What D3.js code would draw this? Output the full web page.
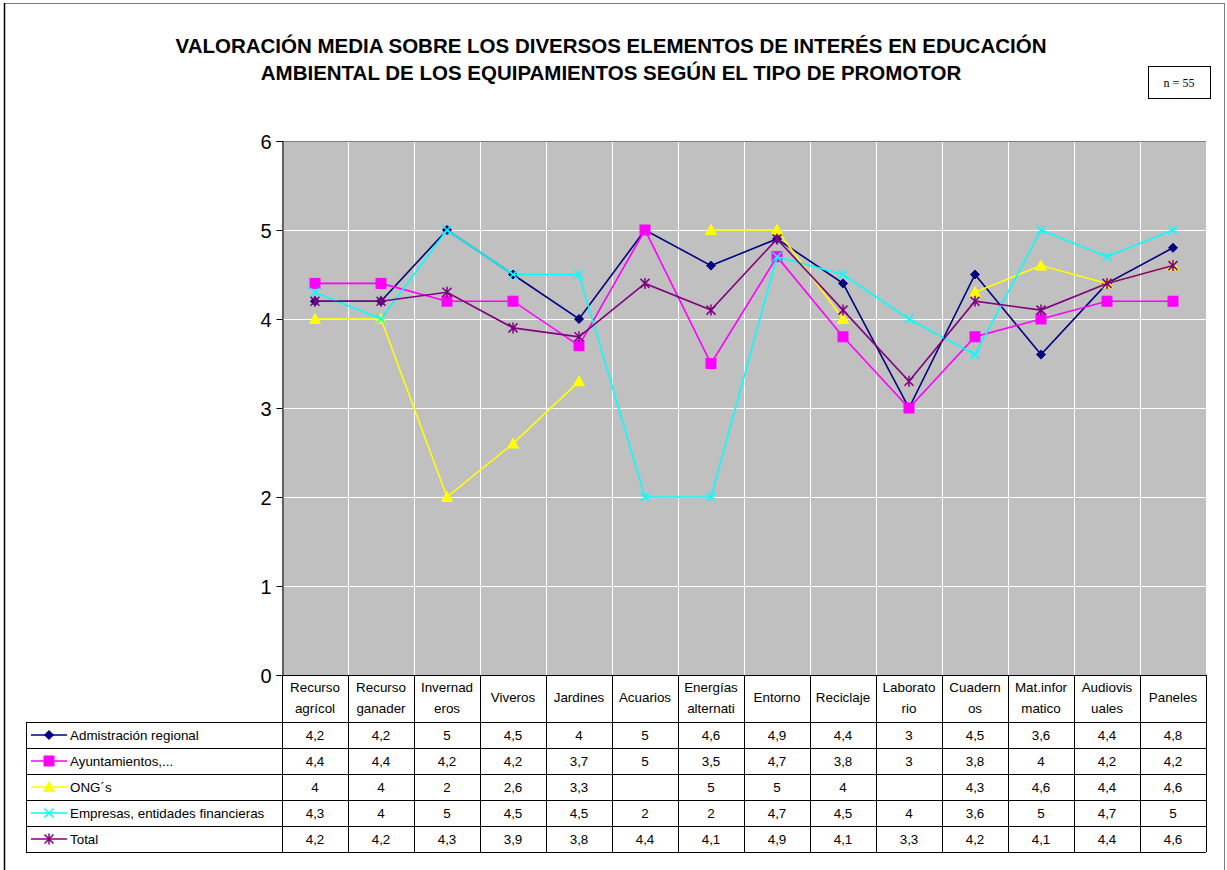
<!DOCTYPE html>
<html>
<head>
<meta charset="utf-8">
<style>
body { margin: 0; background: #fff; }
svg { font-family: Arial, "Liberation Sans", sans-serif; }
</style>
<script src="https://d3js.org/d3.v7.min.js"></script>
</head>
<body>
<svg id="chart" width="1227" height="870"></svg>
<script>

// categories (two lines each, as in the data table header)
var categories = [
  ["Recurso", "agrícol"], ["Recurso", "ganader"], ["Invernad", "eros"], ["Viveros"],
  ["Jardines"], ["Acuarios"], ["Energías", "alternati"], ["Entorno"], ["Reciclaje"],
  ["Laborato", "rio"], ["Cuadern", "os"], ["Mat.infor", "matico"], ["Audiovis", "uales"], ["Paneles"]
];

var seriesNames = ["Admistración regional", "Ayuntamientos,...", "ONG´s",
  "Empresas, entidades financieras", "Total"];

var admin   = [4.2, 4.2, 5, 4.5, 4, 5, 4.6, 4.9, 4.4, 3, 4.5, 3.6, 4.4, 4.8];
var ayto    = [4.4, 4.4, 4.2, 4.2, 3.7, 5, 3.5, 4.7, 3.8, 3, 3.8, 4, 4.2, 4.2];
var ong     = [4, 4, 2, 2.6, 3.3, null, 5, 5, 4, null, 4.3, 4.6, 4.4, 4.6];
var empresa = [4.3, 4, 5, 4.5, 4.5, 2, 2, 4.7, 4.5, 4, 3.6, 5, 4.7, 5];
var total   = [4.2, 4.2, 4.3, 3.9, 3.8, 4.4, 4.1, 4.9, 4.1, 3.3, 4.2, 4.1, 4.4, 4.6];

var yTicks = [0, 1, 2, 3, 4, 5, 6];

var seriesValues = [admin, ayto, ong, empresa, total];
var seriesColors = ["#000080", "#ff00ff", "#ffff00", "#00ffff", "#800080"];
var seriesMarkers = ["diamond", "square", "triangle", "x", "star"];

var svg = d3.select("#chart");

// outer frame
svg.append("rect").attr("x", 4.5).attr("y", 3.5).attr("width", 1220).attr("height", 880)
  .attr("fill", "none").attr("stroke", "#808080").attr("stroke-width", 1);
svg.append("line").attr("x1", 4.5).attr("x2", 4.5).attr("y1", 3).attr("y2", 870)
  .attr("stroke", "#000").attr("stroke-width", 1.5);

// title
svg.append("text").attr("x", 611).attr("y", 53).attr("text-anchor", "middle")
  .style("font-size", "20.5px").style("font-weight", "bold")
  .text("VALORACIÓN MEDIA SOBRE LOS DIVERSOS ELEMENTOS DE INTERÉS EN EDUCACIÓN");
svg.append("text").attr("x", 611).attr("y", 80).attr("text-anchor", "middle")
  .style("font-size", "20.5px").style("font-weight", "bold")
  .text("AMBIENTAL DE LOS EQUIPAMIENTOS SEGÚN EL TIPO DE PROMOTOR");

// n box
svg.append("rect").attr("x", 1148.5).attr("y", 66.5).attr("width", 62).attr("height", 32)
  .attr("fill", "#fff").attr("stroke", "#000");
svg.append("text").attr("x", 1179).attr("y", 87).attr("text-anchor", "middle")
  .style("font-family", "'Liberation Serif', 'Times New Roman', serif").style("font-size", "12px")
  .text("n = 55");

var pLeft = 282, pRight = 1206, pTop = 141, pBottom = 675;

var x = d3.scaleBand().domain(d3.range(categories.length)).range([pLeft, pRight]);
var y = d3.scaleLinear().domain([0, 6]).range([pBottom, pTop]);

// plot area
svg.append("rect").attr("x", pLeft).attr("y", pTop).attr("width", pRight - pLeft).attr("height", pBottom - pTop)
  .attr("fill", "#c0c0c0");

// horizontal grid
svg.append("g").selectAll("line").data(yTicks.filter(function(d) { return d > 0; }))
  .enter().append("line")
  .attr("x1", pLeft).attr("x2", pRight)
  .attr("y1", function(d) { return Math.round(y(d)) + 0.5; })
  .attr("y2", function(d) { return Math.round(y(d)) + 0.5; })
  .attr("stroke", "#fff").attr("stroke-width", 1);

// vertical grid
svg.append("g").selectAll("line").data(d3.range(1, categories.length + 1))
  .enter().append("line")
  .attr("x1", function(i) { return Math.round(pLeft + i * x.step()) + 0.5; })
  .attr("x2", function(i) { return Math.round(pLeft + i * x.step()) + 0.5; })
  .attr("y1", pTop).attr("y2", pBottom)
  .attr("stroke", "#fff").attr("stroke-width", 1);

svg.append("line").attr("x1", pLeft).attr("x2", pRight).attr("y1", pTop + 0.5).attr("y2", pTop + 0.5)
  .attr("stroke", "#808080");

// y axis
var yAxis = d3.axisLeft(y).tickValues(yTicks).tickSize(6).tickPadding(5).tickFormat(d3.format("d"));
var ya = svg.append("g").attr("transform", "translate(" + (pLeft + 0.5) + ",0)").call(yAxis);
ya.select(".domain").attr("stroke", "#000");
ya.selectAll("text").style("font-size", "20px").attr("dy", "0.35em");

// lines and markers
var line = d3.line()
  .defined(function(d) { return d !== null; })
  .x(function(d, i) { return x(i) + x.bandwidth() / 2; })
  .y(function(d) { return y(d); });

function drawMarker(g, type, color, size) {
  var s = size;
  if (type === "diamond") {
    g.append("path").attr("d", "M0," + (-s) + "L" + s + ",0L0," + s + "L" + (-s) + ",0Z")
      .attr("fill", color).attr("stroke", color);
  } else if (type === "square") {
    g.append("rect").attr("x", -s).attr("y", -s).attr("width", 2 * s).attr("height", 2 * s)
      .attr("fill", color).attr("stroke", color);
  } else if (type === "triangle") {
    g.append("path").attr("d", "M0," + (-s - 1) + "L" + (s + 1) + "," + s + "L" + (-s - 1) + "," + s + "Z")
      .attr("fill", color).attr("stroke", color);
  } else if (type === "x") {
    g.append("path").attr("d", "M" + (-s) + "," + (-s) + "L" + s + "," + s + "M" + (-s) + "," + s + "L" + s + "," + (-s))
      .attr("stroke", color).attr("stroke-width", 1.5).attr("fill", "none");
  } else if (type === "star") {
    g.append("path").attr("d", "M" + (-s) + "," + (-s) + "L" + s + "," + s + "M" + (-s) + "," + s + "L" + s + "," + (-s) +
      "M0," + (-s - 1) + "L0," + (s + 1))
      .attr("stroke", color).attr("stroke-width", 1.5).attr("fill", "none");
  }
}

seriesValues.forEach(function(vals, si) {
  var color = seriesColors[si];
  svg.append("path").datum(vals).attr("d", line)
    .attr("fill", "none").attr("stroke", color).attr("stroke-width", 1.6);
  vals.forEach(function(v, i) {
    if (v === null) return;
    var g = svg.append("g").attr("transform", "translate(" + (x(i) + x.bandwidth() / 2) + "," + y(v) + ")");
    drawMarker(g, seriesMarkers[si], color, seriesMarkers[si] === "square" ? 5 : 4.5);
  });
});

// data table
var tLeft = 26, headBottom = 722, rowH = 26;
var tBottom = headBottom + rowH * seriesValues.length;
var table = svg.append("g").attr("stroke", "#000").attr("stroke-width", 1);

d3.range(0, categories.length + 1).forEach(function(i) {
  var xx = Math.round(pLeft + i * x.step()) + 0.5;
  table.append("line").attr("x1", xx).attr("x2", xx).attr("y1", pBottom).attr("y2", tBottom);
});
table.append("line").attr("x1", tLeft + 0.5).attr("x2", tLeft + 0.5).attr("y1", headBottom).attr("y2", tBottom);
d3.range(0, seriesValues.length + 1).forEach(function(r) {
  var yy = headBottom + r * rowH + 0.5;
  table.append("line").attr("x1", tLeft).attr("x2", pRight).attr("y1", yy).attr("y2", yy);
});
svg.append("line").attr("x1", pLeft).attr("x2", pRight).attr("y1", pBottom + 0.5).attr("y2", pBottom + 0.5)
  .attr("stroke", "#000");

// header labels
categories.forEach(function(lines, i) {
  var cx = x(i) + x.bandwidth() / 2;
  var t = svg.append("text").attr("text-anchor", "middle").style("font-size", "13.4px");
  if (lines.length === 1) {
    t.attr("x", cx).attr("y", 702).text(lines[0]);
  } else {
    t.append("tspan").attr("x", cx).attr("y", 692).text(lines[0]);
    t.append("tspan").attr("x", cx).attr("y", 713).text(lines[1]);
  }
});

// legend + values
var fmt = function(v) { return String(v).replace(".", ","); };
seriesValues.forEach(function(vals, si) {
  var cy = headBottom + si * rowH + rowH / 2;
  var color = seriesColors[si];
  svg.append("line").attr("x1", 31).attr("x2", 67).attr("y1", cy).attr("y2", cy)
    .attr("stroke", color).attr("stroke-width", 1.6);
  var g = svg.append("g").attr("transform", "translate(49," + cy + ")");
  drawMarker(g, seriesMarkers[si], color, seriesMarkers[si] === "square" ? 5 : 4.5);
  svg.append("text").attr("x", 70).attr("y", cy + 5).style("font-size", "13.4px").text(seriesNames[si]);
  vals.forEach(function(v, i) {
    if (v === null) return;
    svg.append("text").attr("x", x(i) + x.bandwidth() / 2).attr("y", cy + 5)
      .attr("text-anchor", "middle").style("font-size", "13.4px").text(fmt(v));
  });
});

</script>
</body>
</html>
